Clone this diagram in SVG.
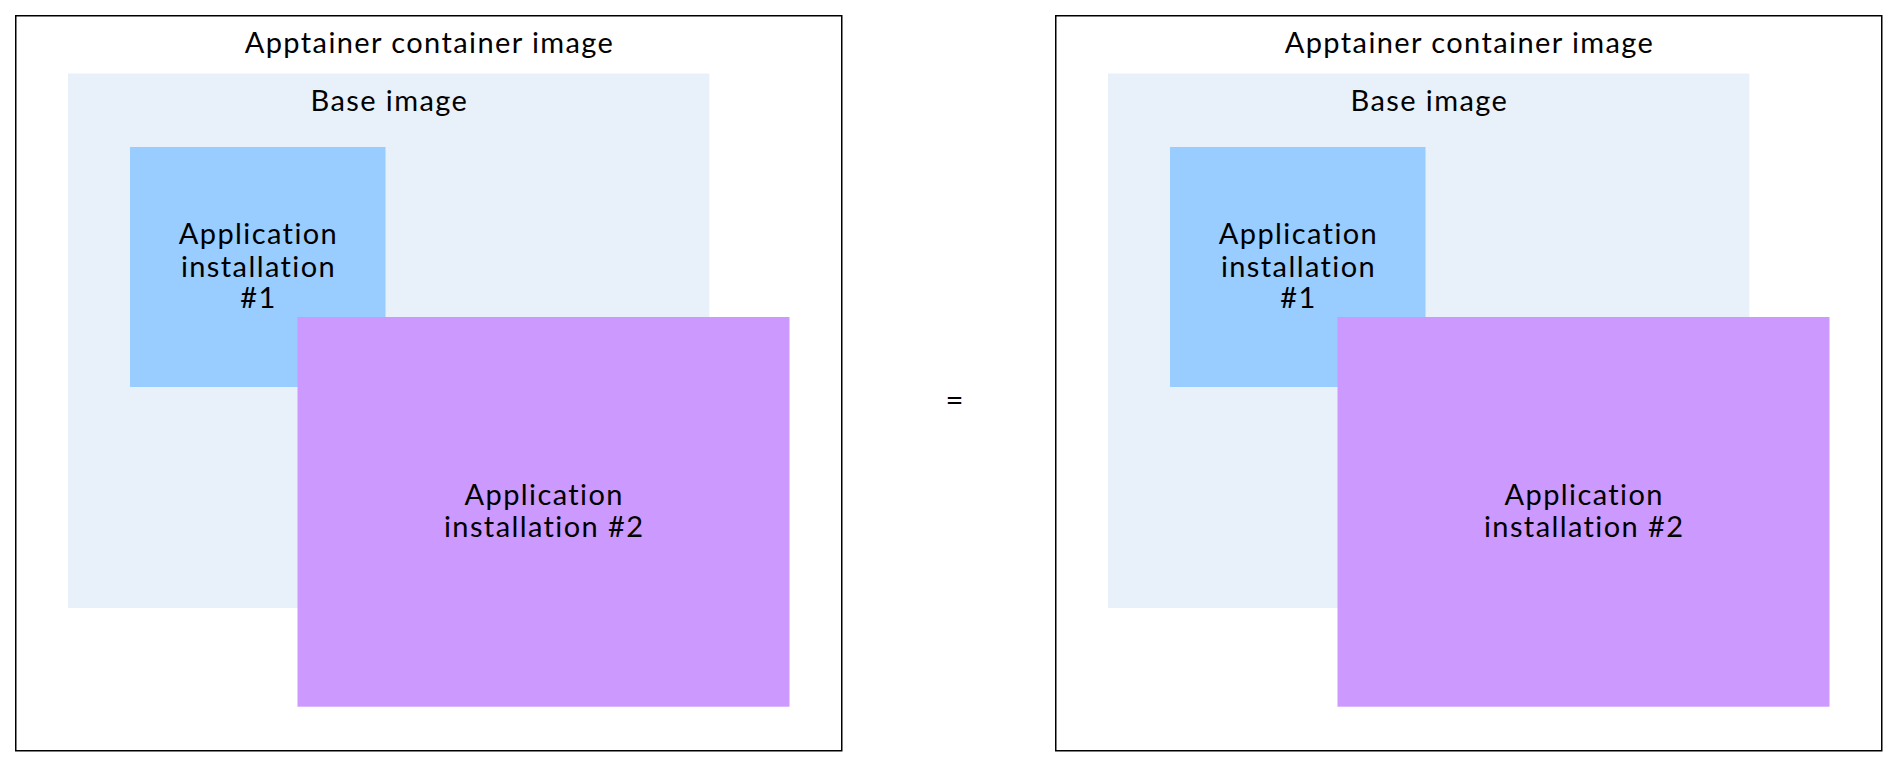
<svg xmlns="http://www.w3.org/2000/svg" width="1898" height="766" viewBox="0 0 1898 766">
<style>
text{font-family:Lato,"Noto Sans","Liberation Sans",sans-serif;font-size:29px;letter-spacing:1.4px;fill:#000;text-anchor:middle}
.outer{fill:#fff;stroke:#000;stroke-width:1.5}
.base{fill:#E8F1FA}
.app1{fill:#99CCFF}
.app2{fill:#CC99FF}
</style>
<rect width="1898" height="766" fill="#fff"/>
<g id="left">
<g id="container-left"><rect class="outer" x="15.75" y="15.75" width="826" height="735"/><text x="429.5" y="53.3">Apptainer container image</text></g>
<g id="base-left"><rect class="base" x="68" y="73.5" width="641.3" height="534.5"/><text x="389.4" y="111">Base image</text></g>
<g id="app1-left"><rect class="app1" x="130" y="147" width="255.5" height="240"/><text x="258.5" y="244.3">Application</text><text x="258.5" y="276.5">installation</text><text x="258.5" y="308.3">#1</text></g>
<g id="app2-left"><rect class="app2" x="297.5" y="317" width="492" height="389.7"/><text x="544.2" y="505">Application</text><text x="544.2" y="537">installation #2</text></g>
</g>
<g id="equals"><text x="955.2" y="411" style="font-size:31px">=</text></g>
<g id="right" transform="translate(1040,0)">
<g id="container-right"><rect class="outer" x="15.75" y="15.75" width="826" height="735"/><text x="429.5" y="53.3">Apptainer container image</text></g>
<g id="base-right"><rect class="base" x="68" y="73.5" width="641.3" height="534.5"/><text x="389.4" y="111">Base image</text></g>
<g id="app1-right"><rect class="app1" x="130" y="147" width="255.5" height="240"/><text x="258.5" y="244.3">Application</text><text x="258.5" y="276.5">installation</text><text x="258.5" y="308.3">#1</text></g>
<g id="app2-right"><rect class="app2" x="297.5" y="317" width="492" height="389.7"/><text x="544.2" y="505">Application</text><text x="544.2" y="537">installation #2</text></g>
</g>
<g id="connectors"/>
</svg>
